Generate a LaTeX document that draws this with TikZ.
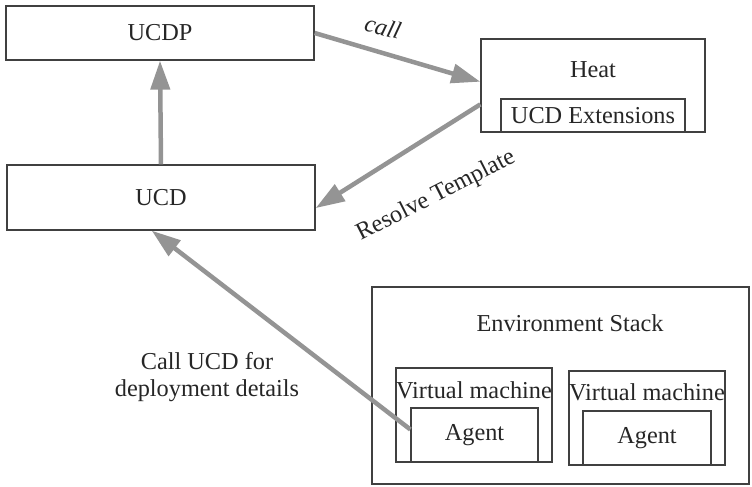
\documentclass[tikz,border=0pt]{standalone}
\usepackage{fontspec}
\setmainfont{Liberation Serif}
\usetikzlibrary{arrows.meta,calc}
\begin{document}
\begin{tikzpicture}[x=1pt,y=-1pt,
  box/.style={draw=black!75,line width=1.3pt,rectangle,inner sep=0pt,anchor=center,text=black!85},
  lbl/.style={inner sep=0pt,text=black!85},
  garrow/.style={draw=black!42,line width=4.5pt,-{Triangle[length=29pt,width=19pt]}},
  every node/.style={font=\fontsize{24.3}{27.5}\selectfont}]
\useasboundingbox (0,0) rectangle (752,487);
% boxes
\node[box,minimum width=308,minimum height=54] (ucdp) at (160,33) {UCDP};
\node[box,minimum width=308,minimum height=65] (ucd) at (161,197.5) {UCD};
\node[box,minimum width=224,minimum height=93] (heat) at (593,85.5) {};
\node[lbl] (heatl) at (593,70) {Heat};
\node[box,minimum width=184,minimum height=33] (ext) at (593,115.5) {UCD Extensions};
\node[box,minimum width=377,minimum height=197] (env) at (560.5,385.5) {};
\node[lbl] (envl) at (570,323) {Environment Stack};
\node[box,minimum width=156,minimum height=94] (vm1) at (474,415) {};
\node[lbl] (vm1l) at (474,390) {Virtual machine};
\node[box,minimum width=127,minimum height=54] (ag1) at (474.5,435) {Agent};
\node[box,minimum width=156,minimum height=94] (vm2) at (647,418) {};
\node[lbl] (vm2l) at (647,392) {Virtual machine};
\node[box,minimum width=128,minimum height=54] (ag2) at (647,438) {Agent};
% connection points
\coordinate (hw1) at ($(heat.north west)!0.46!(heat.south west)$);
\coordinate (hw2) at ($(heat.north west)!0.70!(heat.south west)$);
\coordinate (ue) at ($(ucd.north east)!0.66!(ucd.south east)$);
\coordinate (us) at ($(ucd.south west)!0.47!(ucd.south east)$);
\coordinate (aw) at ($(ag1.north west)!0.40!(ag1.south west)$);
% arrows
\draw[garrow] (ucd.north) -- (ucdp.south);
\draw[garrow] (ucdp.east) -- (hw1);
\draw[garrow] (hw2) -- (ue);
\draw[garrow] (aw) -- (us);
% labels
\node[lbl,rotate=-15] (calll) at (383,27) {\itshape call};
\node[lbl,rotate=27] (resl) at (436,196) {Resolve Template};
\node[lbl,align=center] (cucd) at (207,377) {Call UCD for\\deployment details};
\end{tikzpicture}
\end{document}
